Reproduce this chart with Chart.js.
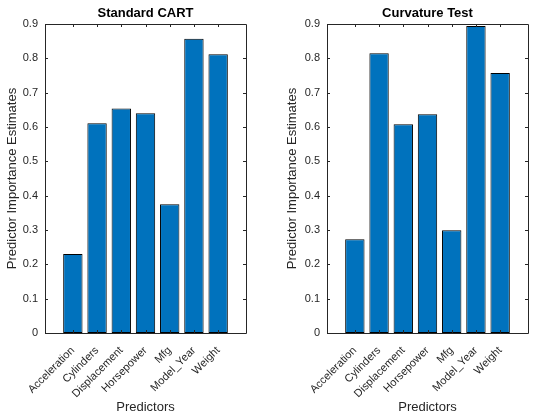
<!DOCTYPE html>
<html>
<head>
<meta charset="utf-8">
<script src="https://cdn.jsdelivr.net/npm/chart.js@4"></script>
<style>
	body { margin: 0; background: #fff; }
	.wrap { display: flex; width: 560px; height: 420px; }
	.cell { position: relative; width: 280px; height: 420px; }
</style>
</head>
<body>
<div class="wrap">
	<div class="cell"><canvas id="cartChart"></canvas></div>
	<div class="cell"><canvas id="curvChart"></canvas></div>
</div>
<script>
// data
const predictors = ['Acceleration', 'Cylinders', 'Displacement', 'Horsepower', 'Mfg', 'Model_Year', 'Weight'];
const cartImportance = [0.230, 0.611, 0.654, 0.640, 0.375, 0.857, 0.812];
const curvatureImportance = [0.273, 0.815, 0.608, 0.637, 0.299, 0.894, 0.757];
const yTickValues = [0, 0.1, 0.2, 0.3, 0.4, 0.5, 0.6, 0.7, 0.8, 0.9];

Chart.defaults.font.family = "'Liberation Sans', Arial, sans-serif";
Chart.defaults.color = '#262626';

// matlab style box with inward ticks
let axesBox = {
	id: 'axesBox',
	afterDraw (chart) {
		let { ctx, chartArea: { left, right, top, bottom }, scales: { x, y } } = chart;
		let tick = 3;
		ctx.save();
		ctx.strokeStyle = '#262626';
		ctx.lineWidth = 1;
		ctx.beginPath();
		ctx.rect(Math.round(left) + 0.5, Math.round(top) + 0.5, Math.round(right - left), Math.round(bottom - top));
		x.ticks.forEach(t => {
			let px = Math.round(x.getPixelForValue(t.value)) + 0.5;
			ctx.moveTo(px, bottom);
			ctx.lineTo(px, bottom - tick);
			ctx.moveTo(px, top);
			ctx.lineTo(px, top + tick);
		});
		y.ticks.forEach(t => {
			let py = Math.round(y.getPixelForValue(t.value)) + 0.5;
			ctx.moveTo(left, py);
			ctx.lineTo(left + tick, py);
			ctx.moveTo(right, py);
			ctx.lineTo(right - tick, py);
		});
		ctx.stroke();
		ctx.restore();
	},
};

function createImportanceChart (chartEl, titleText, values, axisWidth, rightPad) {
	return new Chart(chartEl, {
		type: 'bar',
		data: {
			datasets: [{
				data: values.map((v, i) => ({ x: i + 1, y: v })),
				backgroundColor: '#0072BD',
				borderColor: '#000000',
				borderWidth: 1,
				borderSkipped: false,
				barPercentage: 0.8,
				categoryPercentage: 1,
			}],
		},
		options: {
			responsive: true,
			maintainAspectRatio: false,
			animation: false,
			layout: { padding: { left: 0, right: rightPad, top: 0, bottom: 0 } },
			plugins: {
				legend: { display: false },
				tooltip: { enabled: false },
				title: {
					display: true,
					text: titleText,
					fullSize: false,
					color: '#000000',
					font: { size: 13, weight: 'bold' },
					padding: { top: 6, bottom: 2.4 },
				},
			},
			scales: {
				x: {
					type: 'linear',
					offset: false,
					min: -0.15,
					max: 8.15,
					grid: { display: false },
					border: { display: false },
					afterBuildTicks: (s) => { s.ticks = predictors.map((_, i) => ({ value: i + 1 })); },
					afterFit: (s) => { s.height = 87; },
					ticks: {
						autoSkip: false,
						minRotation: 45,
						maxRotation: 45,
						padding: 3,
						font: { size: 11 },
						callback: (v) => predictors[v - 1],
					},
					title: {
						display: true,
						text: 'Predictors',
						font: { size: 13 },
						padding: { top: 4, bottom: 5 },
					},
				},
				y: {
					min: 0,
					max: 0.9,
					grid: { display: false, drawTicks: false },
					border: { display: false },
					afterBuildTicks: (s) => { s.ticks = yTickValues.map(v => ({ value: v })); },
					afterFit: (s) => { s.width = axisWidth; },
					ticks: {
						padding: 7,
						font: { size: 11 },
						callback: (v) => String(Math.round(v * 10) / 10),
					},
					title: {
						display: true,
						text: 'Predictor Importance Estimates',
						font: { size: 13 },
						padding: { top: 5, bottom: 0 },
					},
				},
			},
		},
		plugins: [ axesBox ],
	});
}

createImportanceChart(document.getElementById('cartChart'), 'Standard CART', cartImportance, 45, 34);
createImportanceChart(document.getElementById('curvChart'), 'Curvature Test', curvatureImportance, 47, 32);
</script>
</body>
</html>
